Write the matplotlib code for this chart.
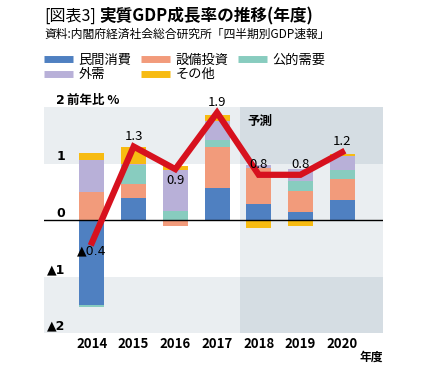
import numpy as np
import matplotlib
matplotlib.use('Agg')
import matplotlib.pyplot as plt
from matplotlib.lines import Line2D
from matplotlib.patches import Rectangle

plt.rcParams['font.family'] = ['Noto Sans CJK JP', 'DejaVu Sans']

# data (% yoy contribution)
years = ['2014', '2015', '2016', '2017', '2018', '2019', '2020']
consumption = [-1.51, 0.39, 0.00, 0.57, 0.28, 0.15, 0.36]   # 民間消費
investment = [0.50, 0.25, -0.10, 0.72, 0.64, 0.36, 0.37]    # 設備投資
public = [-0.03, 0.33, 0.16, 0.12, 0.00, 0.18, 0.15]        # 公的需要
external = [0.57, 0.02, 0.72, 0.35, 0.05, 0.22, 0.26]       # 外需
other = [0.12, 0.30, 0.07, 0.10, -0.15, -0.10, 0.02]        # その他
gdp = [-0.4, 1.3, 0.9, 1.9, 0.8, 0.8, 1.2]
gdp_labels = ['▲0.4', '1.3', '0.9', '1.9', '0.8', '0.8', '1.2']
ytick_vals = [2, 1, 0, -1, -2]
ytick_labels = ['2', '1', '0', '▲1', '▲2']

names = ['民間消費', '設備投資', '公的需要', '外需', 'その他']
colors = ['#4f80c1', '#f29b7b', '#88ccbf', '#b8b0d8', '#f7bb12']
series = [consumption, investment, public, external, other]

tri_font = ['DejaVu Sans']   # smaller ▲ than the CJK one

fig = plt.figure(figsize=(4.29, 3.77), dpi=100)
ax = fig.add_axes([44/429, 44/377, 339/429, 226/377])
x = np.arange(len(years))
ax.set_xlim(-1.15, 6.98)
ax.set_ylim(-2, 2)

# background bands
band = '#eaeef1'
dark = '#d5dde3'
fc_start = 3.55
ax.axhspan(1, 2, color=band, zorder=0, lw=0)
ax.axhspan(-2, -1, color=band, zorder=0, lw=0)
ax.axvspan(fc_start, 6.98, color=band, zorder=0.5, lw=0)
for y0 in [1, -2]:
    ax.add_patch(Rectangle((fc_start, y0), 6.98 - fc_start, 1, color=dark, lw=0, zorder=0.6))

# stacked bars
pos_base = np.zeros(len(years))
neg_base = np.zeros(len(years))
for vals, c in zip(series, colors):
    v = np.array(vals)
    bottom = np.where(v >= 0, pos_base, neg_base)
    ax.bar(x, v, bottom=bottom, width=0.6, color=c, zorder=2, lw=0)
    pos_base = pos_base + np.where(v >= 0, v, 0)
    neg_base = neg_base + np.where(v < 0, v, 0)

ax.axhline(0, color='black', lw=1, zorder=3)

ax.plot(x, gdp, color='#d7111e', lw=4.5, zorder=4, solid_joinstyle='miter')
for i, (v, lab) in enumerate(zip(gdp, gdp_labels)):
    if i == 0:
        ax.annotate(lab, (i, v), xytext=(0, -6), textcoords='offset points', family=tri_font,
                    ha='center', va='center', fontsize=9, zorder=5)
    elif i == 2:
        ax.annotate(lab, (i, v), xytext=(0, -8.5), textcoords='offset points',
                    ha='center', va='center', fontsize=9.5, zorder=5)
    else:
        ax.annotate(lab, (i, v), xytext=(0, 7.5), textcoords='offset points',
                    ha='center', va='center', fontsize=9.5, zorder=5)

# y labels inside the plot
for v, lab in zip(ytick_vals, ytick_labels):
    ax.annotate(lab, (-0.65, v), xytext=(0, 5), textcoords='offset points',
                ha='right', va='center', fontsize=9, fontweight='bold', zorder=5,
                family=tri_font, annotation_clip=False)
ax.annotate('前年比 %', (-0.6, 2), xytext=(0, 5), textcoords='offset points',
            ha='left', va='center', fontsize=9, fontweight='bold', annotation_clip=False)
ax.text(3.72, 1.74, '予測', fontsize=9, fontweight='bold', ha='left', va='center', zorder=5)

ax.set_xticks(x)
ax.set_xticklabels(years, fontsize=9.5, fontweight='bold')
ax.tick_params(axis='x', length=0, pad=3)
ax.set_yticks([])
for s in ax.spines.values():
    s.set_visible(False)
fig.text(383/429, 1 - 357/377, '年度', fontsize=8.5, fontweight='bold', ha='right', va='center')

# title and source
fig.text(44/429, 1 - 16/377, '[図表3]', fontsize=11.5, ha='left', va='center')
fig.text(99/429, 1 - 16/377, '実質GDP成長率の推移(年度)', fontsize=12, fontweight='bold',
         ha='left', va='center')
fig.text(44/429, 1 - 34/377, '資料:内閣府経済社会総合研究所「四半期別GDP速報」', fontsize=8.5,
         ha='left', va='center')

order = [0, 3, 1, 4, 2]
handles = [Line2D([], [], color=colors[i], lw=5, solid_capstyle='butt') for i in order]
fig.legend(handles, [names[i] for i in order], ncol=3, loc='upper left',
           bbox_to_anchor=(44/429, 1 - 54/377), frameon=False, fontsize=9.5,
           handlelength=2.2, handletextpad=0.4, columnspacing=0.75, labelspacing=0.1,
           borderaxespad=0, borderpad=0)

fig.savefig('out.png', dpi=100)
